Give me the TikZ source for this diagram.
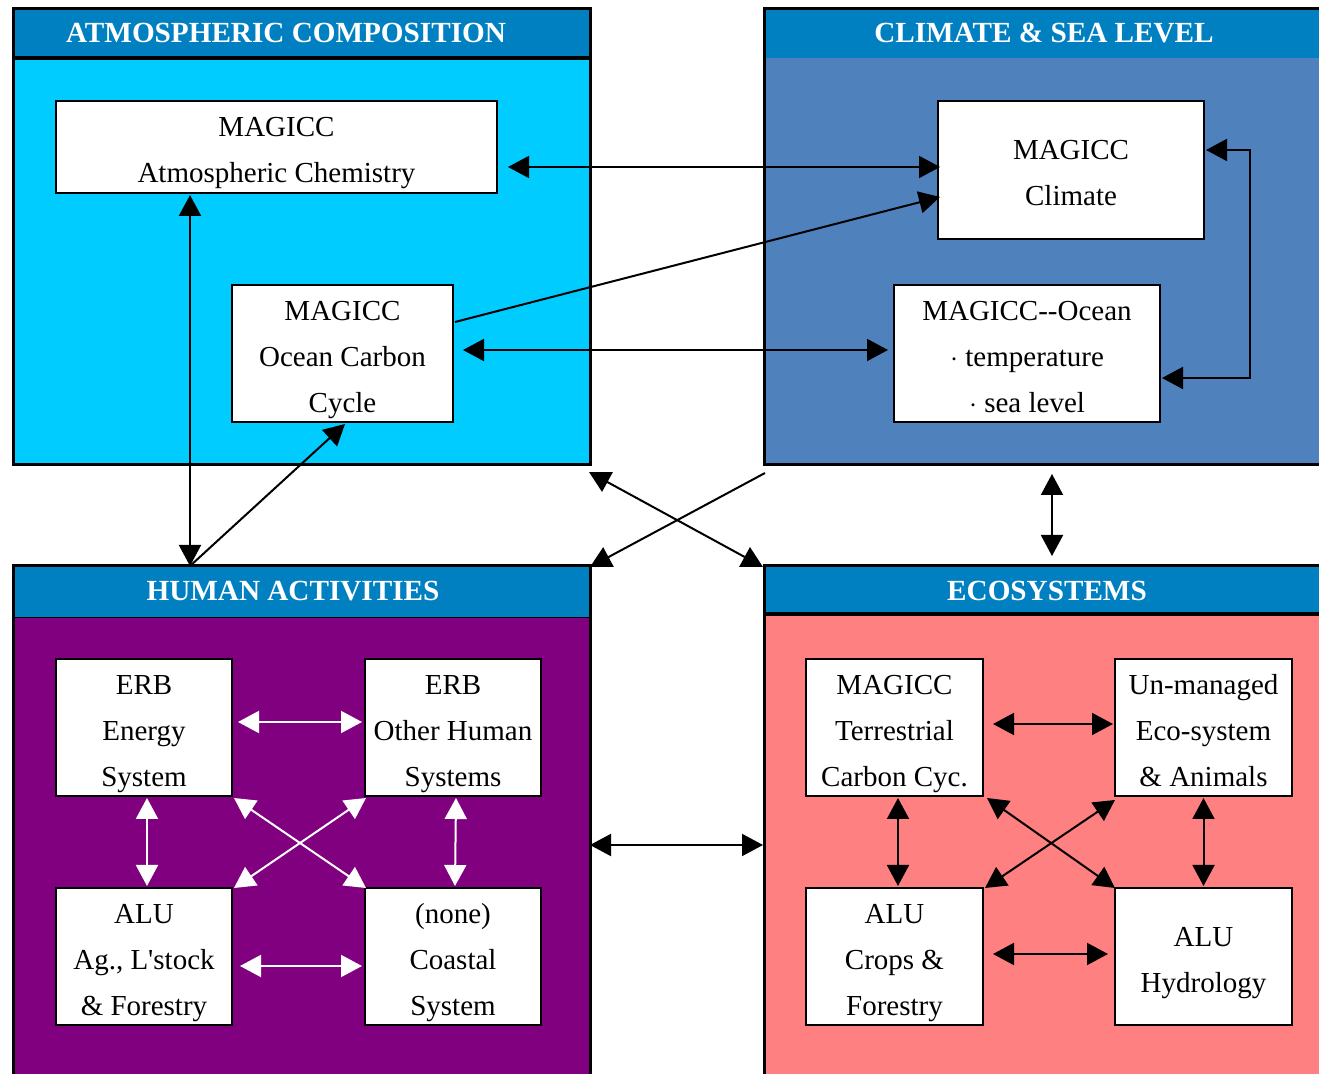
\documentclass[tikz,border=0pt]{standalone}
\usepackage{fontspec}
\setmainfont[Ligatures=TeXOff]{Liberation Serif}
\usepackage{xcolor}
\usetikzlibrary{arrows.meta,calc}

\definecolor{headblue}{HTML}{0080C0}
\definecolor{atmcyan}{HTML}{00CCFF}
\definecolor{climblue}{HTML}{4F81BD}
\definecolor{humpurple}{HTML}{800080}
\definecolor{ecopink}{HTML}{FF8080}

\begin{document}
\begin{tikzpicture}[
        x=0.5pt, y=-0.5pt,
        font=\fontsize{14.5}{23}\selectfont,
        panel/.style={rectangle, anchor=north west, inner sep=0pt, outer sep=0pt},
        headbar/.style={panel, fill=headblue},
        frame/.style={line width=1.5pt},
        sep/.style={line width=2pt},
        headtext/.style={text=white, inner sep=0pt, font=\fontsize{14.6}{17}\selectfont\bfseries},
        box/.style={rectangle, draw=black, line width=1pt, fill=white, align=center, inner sep=0pt, outer sep=0pt,
            text depth=0pt, text height=58.8pt},
        twoline/.style={text height=35.8pt},
        tip/.tip={Triangle[length=10.5pt,width=11pt]},
        arrow/.style={line width=1pt, tip-tip},
        oneway/.style={line width=1pt, -tip},
        warrow/.style={arrow, white}
    ]
        \clip (0,0) rectangle (1319,1074);

        % panels
        \node[panel, fill=atmcyan, minimum width=288.5pt, minimum height=228pt] (atm) at (13,9) {};
        \node[headbar, minimum width=288.5pt, minimum height=24.5pt] (atmhead) at (atm.north west) {};
        \draw[frame] (atm.north west) rectangle (atm.south east);
        \draw[sep] (atmhead.south west) -- (atmhead.south east);
        \node[headtext] (atmtitle) at (286,33) {ATMOSPHERIC COMPOSITION};

        \node[panel, fill=climblue, minimum width=283pt, minimum height=228pt] (clim) at (764,9) {};
        \node[headbar, minimum width=283pt, minimum height=24.5pt] (climhead) at (clim.north west) {};
        \draw[frame] (clim.north west) rectangle (clim.south east);
        \node[headtext] (climtitle) at (1044,33) {CLIMATE \& SEA LEVEL};

        \node[panel, fill=humpurple, minimum width=288.5pt, minimum height=259.5pt] (hum) at (13,566) {};
        \node[headbar, minimum width=288.5pt, minimum height=25.5pt] (humhead) at (hum.north west) {};
        \draw[frame] (hum.north west) rectangle (hum.south east);
        \draw[thin] (humhead.south west) -- (humhead.south east);
        \node[headtext] (humtitle) at (293,591) {HUMAN ACTIVITIES};

        \node[panel, fill=ecopink, minimum width=283pt, minimum height=259.5pt] (eco) at (764,566) {};
        \node[headbar, minimum width=283pt, minimum height=24pt] (ecohead) at (eco.north west) {};
        \draw[frame] (eco.north west) rectangle (eco.south east);
        \draw[sep] (ecohead.south west) -- (ecohead.south east);
        \node[headtext] (ecotitle) at (1047,591) {ECOSYSTEMS};

        % model boxes
        \node[box, twoline, minimum width=220.5pt, minimum height=46pt] (atmchem) at (276.5,147) {MAGICC\\Atmospheric Chemistry};
        \node[box, minimum width=110.5pt, minimum height=68.5pt] (oceancarbon) at (342.5,353.5) {MAGICC\\Ocean Carbon\\Cycle};
        \node[box, twoline, minimum width=133pt, minimum height=69pt] (climate) at (1071,170) {MAGICC\\Climate};
        \node[box, minimum width=133pt, minimum height=68.5pt] (ocean) at (1027,353.5) {MAGICC--Ocean\\$\cdot$ temperature\\$\cdot$ sea level};

        \node[box, minimum width=88pt, minimum height=68.5pt] (erbenergy) at (144,727.5) {ERB\\Energy\\System};
        \node[box, minimum width=88pt, minimum height=68.5pt] (erbother) at (453,727.5) {ERB\\Other Human\\Systems};
        \node[box, minimum width=88pt, minimum height=68.5pt] (aluag) at (144,956.5) {ALU\\Ag., L'stock\\\& Forestry};
        \node[box, minimum width=88pt, minimum height=68.5pt] (coastal) at (453,956.5) {(none)\\Coastal\\System};

        \node[box, minimum width=88.5pt, minimum height=68.5pt] (terrestrial) at (894.5,727.5) {MAGICC\\Terrestrial\\Carbon Cyc.};
        \node[box, minimum width=88.5pt, minimum height=68.5pt] (unmanaged) at (1203.5,727.5) {Un-managed\\Eco-system\\\& Animals};
        \node[box, minimum width=88.5pt, minimum height=68.5pt] (crops) at (894.5,956.5) {ALU\\Crops \&\\Forestry};
        \node[box, twoline, minimum width=88.5pt, minimum height=68.5pt] (hydrology) at (1203.5,956.5) {ALU\\Hydrology};

        \coordinate (humlink) at ($(hum.north west)+(177,0)$);

        % links in the upper panels
        \draw[arrow] ($(atmchem.east)+(11,20)$) -- ($(climate.west)+(2,-3)$);
        \draw[oneway] ($(oceancarbon.north east)+(2,37)$) -- ($(climate.west)+(2,27)$);
        \draw[arrow] ($(oceancarbon.east)+(10,-3.5)$) -- ($(ocean.west)+(-6,-3.5)$);
        \draw[arrow] ($(climate.east)+(2,-20)$) -- ++(44,0) |- ($(ocean.east)+(2,24.5)$);
        \draw[arrow] ($(atmchem.south -| humlink)+(0,2)$) -- (humlink);
        \draw[oneway] (humlink) -- ($(oceancarbon.south)+(2.5,2)$);

        % links between panels
        \draw[arrow] ($(atm.south east)+(-1,7)$) -- ($(eco.north west)+(-1,1)$);
        \draw[oneway] ($(clim.south west)+(1,8)$) -- ($(hum.north east)+(0,1)$);
        \draw[arrow] ($(clim.south)+(5,9)$) -- ($(eco.north)+(5,-10)$);
        \draw[arrow] ($(hum.east)+(0,19.5)$) -- ($(eco.west)+(-1,19.5)$);

        % human activities
        \draw[warrow] ($(erbenergy.east)+(6,-5.5)$) -- ($(erbother.west)+(-3,-5.5)$);
        \draw[warrow] ($(erbenergy.south)+(3,2)$) -- ($(aluag.north)+(3,-2)$);
        \draw[warrow] ($(erbother.south)+(3,2)$) -- ($(coastal.north)+(2,-2)$);
        \draw[warrow] ($(erbenergy.south east)+(2,2)$) -- ($(coastal.north west)+(1,0)$);
        \draw[warrow] ($(erbother.south west)+(1,2)$) -- ($(aluag.north east)+(2,0)$);
        \draw[warrow] ($(aluag.east)+(8,9.5)$) -- ($(coastal.west)+(-3,9.5)$);

        % ecosystems
        \draw[arrow] ($(terrestrial.east)+(10,-3.5)$) -- ($(unmanaged.west)+(-2,-3.5)$);
        \draw[arrow] ($(terrestrial.south)+(3.5,2)$) -- ($(crops.north)+(3.5,-2)$);
        \draw[arrow] ($(unmanaged.south)+(0,2)$) -- ($(hydrology.north)+(0,-2)$);
        \draw[arrow] ($(terrestrial.south east)+(4,2)$) -- ($(hydrology.north west)+(0,0)$);
        \draw[arrow] ($(unmanaged.south west)+(0,4)$) -- ($(crops.north east)+(2,0)$);
        \draw[arrow] ($(crops.east)+(10,-2.5)$) -- ($(hydrology.west)+(-7,-2.5)$);
    \end{tikzpicture}
\end{document}
